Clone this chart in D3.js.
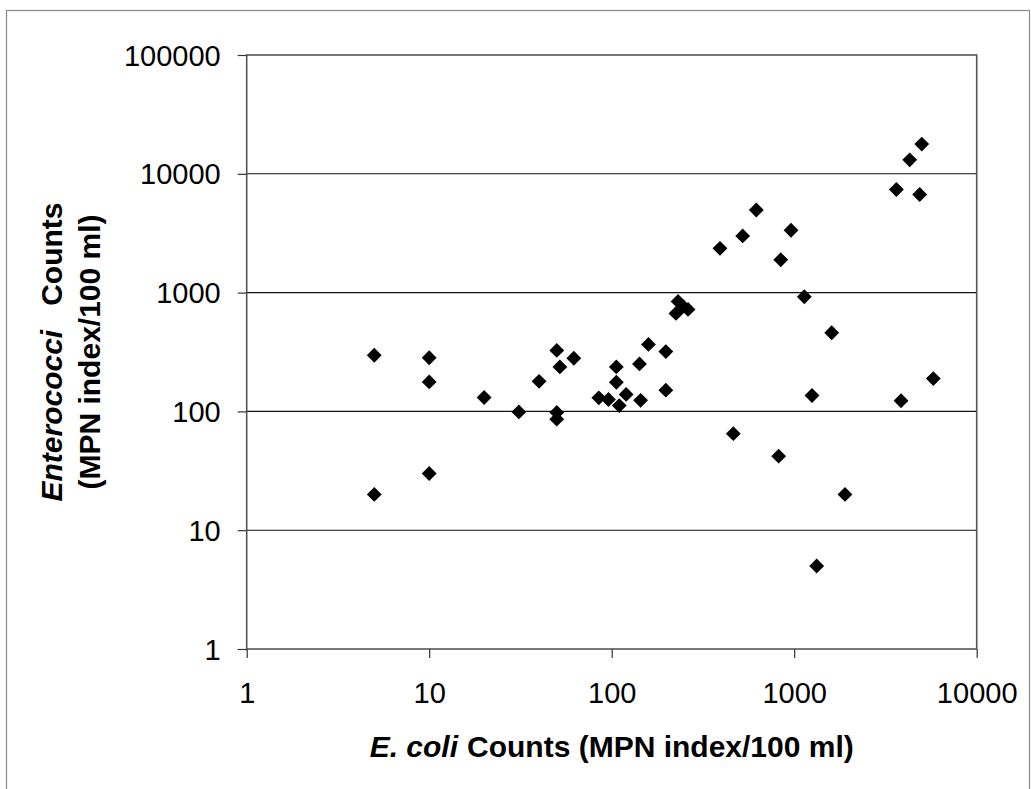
<!DOCTYPE html>
<html lang="en">
<head>
<meta charset="utf-8">
<script src="https://d3js.org/d3.v7.min.js"></script>
<style>
  body { margin: 0; background: #fff; }
  text { font-family: "Liberation Sans", Arial, sans-serif; fill: #000; }
</style>
</head>
<body>
<script type="text/javascript">

// E. coli counts (x) and Enterococci counts (y), MPN index/100 ml
var ecoli = [5, 5, 10, 10, 10, 20, 31, 40, 50, 52, 50, 50, 62, 85, 96, 106, 106, 110, 120, 142,
             144, 159, 198, 198, 231, 246, 262, 225, 392, 464, 522, 620, 822, 844, 961, 1136,
             1252, 1328, 1605, 1898, 3630, 3850, 4295, 4870, 5000, 5785];
var entero = [297, 20, 283, 177, 30, 131, 99, 179, 326, 237, 98, 86, 280, 130, 126, 237, 176, 112, 139, 251,
              124, 366, 319, 151, 843, 765, 722, 668, 2360, 65, 3000, 4960, 42, 1890, 3350, 923,
              136, 5, 459, 20, 7380, 123, 13100, 6690, 17800, 189];

var xTicks = [1, 10, 100, 1000, 10000];
var yTicks = [1, 10, 100, 1000, 10000, 100000];
var gridLines = [10, 100, 1000, 10000];

var width = 1031;
var height = 789;

// plot area edges (note: "top" is reserved by the browser window)
var pLeft = 246.7, pRight = 976.7, pTop = 55, pBottom = 649;

var svg = d3.select("body")
  .append("svg")
  .attr("width", width)
  .attr("height", height);

// outer frame of the chart
svg.append("rect")
  .attr("x", 6.5)
  .attr("y", 10.5)
  .attr("width", 1023)
  .attr("height", 800)
  .attr("fill", "none")
  .attr("stroke", "#888")
  .attr("stroke-width", 1.2);

var x = d3.scaleLog().domain([1, 10000]).range([pLeft, pRight]);
var y = d3.scaleLog().domain([1, 100000]).range([pBottom, pTop]);

// horizontal gridlines
svg.selectAll("line.grid")
  .data(gridLines)
  .enter()
  .append("line")
  .attr("class", "grid")
  .attr("x1", pLeft)
  .attr("x2", pRight)
  .attr("y1", function(d) { return y(d); })
  .attr("y2", function(d) { return y(d); })
  .attr("stroke", "#111")
  .attr("stroke-width", 1.1);

// plot area border
svg.append("rect")
  .attr("x", pLeft)
  .attr("y", pTop)
  .attr("width", pRight - pLeft)
  .attr("height", pBottom - pTop)
  .attr("fill", "none")
  .attr("stroke", "#555")
  .attr("stroke-width", 1.6);

var xAxis = svg.append("g")
  .attr("transform", "translate(0," + pBottom + ")")
  .call(d3.axisBottom(x).tickValues(xTicks).tickFormat(d3.format("d")).tickSize(9).tickSizeOuter(0));

var yAxis = svg.append("g")
  .attr("transform", "translate(" + pLeft + ",0)")
  .call(d3.axisLeft(y).tickValues(yTicks).tickFormat(d3.format("d")).tickSize(9).tickSizeOuter(0));

xAxis.select(".domain").remove();
yAxis.select(".domain").remove();
svg.selectAll(".tick line").attr("stroke", "#333").attr("stroke-width", 1.2);

xAxis.selectAll("text")
  .attr("y", 54)
  .attr("dy", 0)
  .style("font-size", "29px")
  .style("font-family", '"Liberation Sans", Arial, sans-serif')
  .attr("fill", "#000");

yAxis.selectAll("text")
  .attr("x", -26)
  .attr("dy", "0.35em")
  .style("font-size", "29px")
  .style("font-family", '"Liberation Sans", Arial, sans-serif')
  .attr("fill", "#000");

// markers: squares turned 45 degrees
var diamond = d3.symbol().type(d3.symbolSquare).size(110);

svg.selectAll("path.pt")
  .data(ecoli)
  .enter()
  .append("path")
  .attr("class", "pt")
  .attr("d", diamond)
  .attr("transform", function(d, i) {
    return "translate(" + x(d) + "," + y(entero[i]) + ") rotate(45)";
  })
  .attr("fill", "#000");

// x title
var xt = svg.append("text")
  .attr("x", (pLeft + pRight) / 2)
  .attr("y", 757)
  .attr("text-anchor", "middle")
  .style("font-size", "30px")
  .style("font-weight", "bold");
xt.append("tspan").style("font-style", "italic").text("E. coli");
xt.append("tspan").attr("dx", 9).text("Counts (MPN index/100 ml)");

// y title, two lines
var yt = svg.append("g")
  .attr("transform", "translate(0," + (pTop + pBottom) / 2 + ") rotate(-90)");

var yl1 = yt.append("text")
  .attr("x", 0)
  .attr("y", 62)
  .attr("text-anchor", "middle")
  .style("font-size", "30px")
  .style("font-weight", "bold");
yl1.append("tspan").style("font-style", "italic").text("Enterococci");
yl1.append("tspan").attr("dx", 24).text("Counts");

yt.append("text")
  .attr("x", 0)
  .attr("y", 100)
  .attr("text-anchor", "middle")
  .style("font-size", "30px")
  .style("font-weight", "bold")
  .text("(MPN index/100 ml)");

</script>
</body>
</html>
